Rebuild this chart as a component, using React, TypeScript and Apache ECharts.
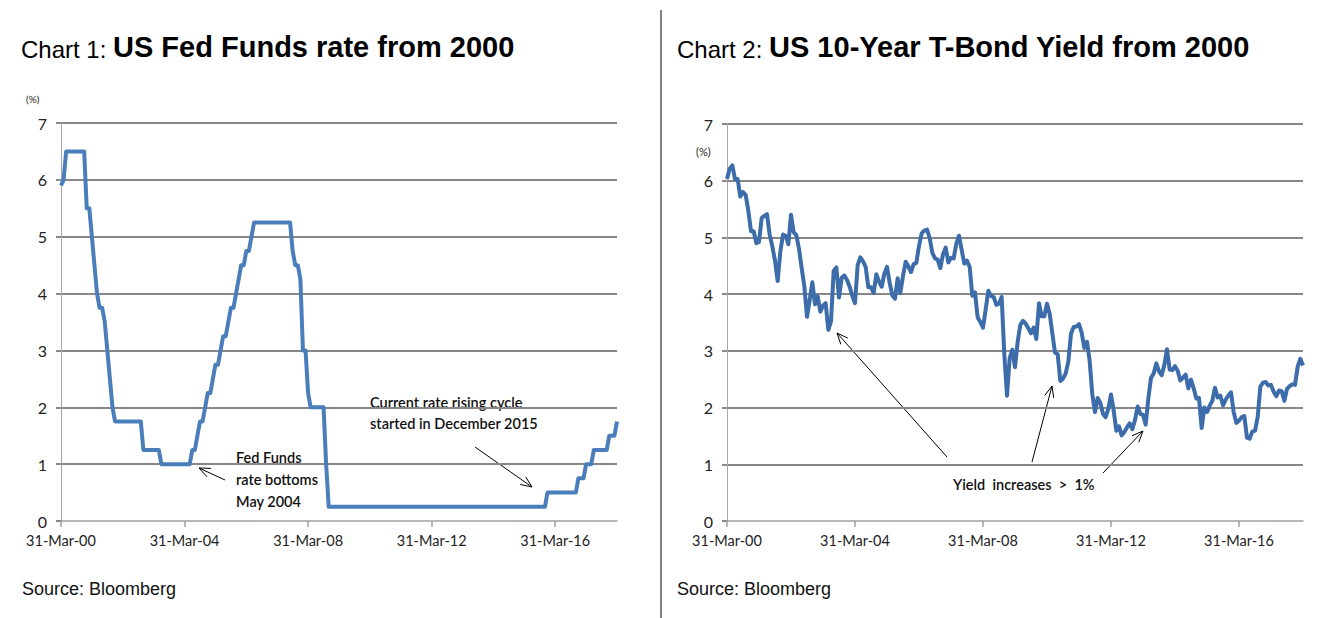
import React, { useEffect, useRef } from "react";
import * as echarts from "echarts";

// ---------- data ----------
const START_YEAR = 2000;
const START_MONTH = 2; // March (0-based)
const MONTHS = 217; // Mar-2000 .. Mar-2018
const monNames = ["Jan","Feb","Mar","Apr","May","Jun","Jul","Aug","Sep","Oct","Nov","Dec"];

// month-end category labels, e.g. "31-Mar-00"
const months: string[] = [];
for (let i = 0; i < MONTHS; i++) {
  const m = (START_MONTH + i) % 12;
  const y = START_YEAR + Math.floor((START_MONTH + i) / 12);
  const last = new Date(Date.UTC(y, m + 1, 0)).getUTCDate();
  months.push(`${last}-${monNames[m]}-${String(y % 100).padStart(2, "0")}`);
}

const yTickValues = [0, 1, 2, 3, 4, 5, 6, 7];

// US Fed Funds target rate (%), month-end, Mar-2000 .. Mar-2018
const fedFunds = [
  5.9, 6.0, 6.5, 6.5, 6.5, 6.5, 6.5, 6.5, 6.5, 6.5,
  5.5, 5.5, 5.0, 4.5, 4.0, 3.75, 3.75, 3.5, 3.0, 2.5, 2.0, 1.75,
  1.75, 1.75, 1.75, 1.75, 1.75, 1.75, 1.75, 1.75, 1.75, 1.75, 1.25, 1.25,
  1.25, 1.25, 1.25, 1.25, 1.25, 1.0, 1.0, 1.0, 1.0, 1.0, 1.0, 1.0,
  1.0, 1.0, 1.0, 1.0, 1.0, 1.25, 1.25, 1.5, 1.75, 1.75, 2.0, 2.25,
  2.25, 2.5, 2.75, 2.75, 3.0, 3.25, 3.25, 3.5, 3.75, 3.75, 4.0, 4.25,
  4.5, 4.5, 4.75, 4.75, 5.0, 5.25, 5.25, 5.25, 5.25, 5.25, 5.25, 5.25,
  5.25, 5.25, 5.25, 5.25, 5.25, 5.25, 5.25, 5.25, 4.75, 4.5, 4.5, 4.25,
  3.0, 3.0, 2.25, 2.0, 2.0, 2.0, 2.0, 2.0, 2.0, 1.0, 0.25, 0.25,
  0.25, 0.25, 0.25, 0.25, 0.25, 0.25, 0.25, 0.25, 0.25, 0.25, 0.25, 0.25,
  0.25, 0.25, 0.25, 0.25, 0.25, 0.25, 0.25, 0.25, 0.25, 0.25, 0.25, 0.25,
  0.25, 0.25, 0.25, 0.25, 0.25, 0.25, 0.25, 0.25, 0.25, 0.25, 0.25, 0.25,
  0.25, 0.25, 0.25, 0.25, 0.25, 0.25, 0.25, 0.25, 0.25, 0.25, 0.25, 0.25,
  0.25, 0.25, 0.25, 0.25, 0.25, 0.25, 0.25, 0.25, 0.25, 0.25, 0.25, 0.25,
  0.25, 0.25, 0.25, 0.25, 0.25, 0.25, 0.25, 0.25, 0.25, 0.25, 0.25, 0.25,
  0.25, 0.25, 0.25, 0.25, 0.25, 0.25, 0.25, 0.25, 0.25, 0.25, 0.25, 0.5,
  0.5, 0.5, 0.5, 0.5, 0.5, 0.5, 0.5, 0.5, 0.5, 0.5, 0.5, 0.75,
  0.75, 0.75, 1.0, 1.0, 1.0, 1.25, 1.25, 1.25, 1.25, 1.25, 1.25, 1.5,
  1.5, 1.5, 1.75,
];

// US 10-year Treasury yield (%), month-end, Mar-2000 .. Mar-2018
const tBond10y = [
  6.03, 6.21, 6.27, 6.03, 6.03, 5.72, 5.80, 5.75, 5.47, 5.11,
  5.11, 4.90, 4.92, 5.34, 5.38, 5.41, 5.05, 4.84, 4.59, 4.23, 4.75, 5.05,
  5.03, 4.88, 5.40, 5.09, 5.04, 4.80, 4.46, 4.14, 3.60, 3.89, 4.21, 3.82,
  3.96, 3.69, 3.80, 3.84, 3.37, 3.52, 4.41, 4.47, 3.94, 4.29, 4.33, 4.25,
  4.13, 3.97, 3.84, 4.51, 4.65, 4.58, 4.48, 4.12, 4.12, 4.02, 4.35, 4.22,
  4.13, 4.36, 4.48, 4.20, 3.98, 3.92, 4.28, 4.02, 4.32, 4.57, 4.49, 4.39,
  4.53, 4.55, 4.85, 5.07, 5.12, 5.14, 4.99, 4.73, 4.63, 4.61, 4.46, 4.70,
  4.82, 4.56, 4.64, 4.63, 4.89, 5.03, 4.78, 4.54, 4.59, 4.48, 3.97, 4.03,
  3.59, 3.51, 3.41, 3.73, 4.06, 3.97, 3.95, 3.81, 3.83, 3.95, 2.93, 2.21,
  2.87, 3.02, 2.71, 3.16, 3.46, 3.53, 3.48, 3.40, 3.31, 3.41, 3.21, 3.84,
  3.61, 3.61, 3.83, 3.66, 3.31, 2.97, 2.94, 2.47, 2.51, 2.60, 2.81, 3.30,
  3.42, 3.43, 3.47, 3.32, 3.05, 3.16, 2.82, 2.23, 1.92, 2.17, 2.08, 1.89,
  1.83, 1.98, 2.23, 1.95, 1.59, 1.67, 1.51, 1.57, 1.65, 1.72, 1.62, 1.78,
  2.02, 1.89, 1.87, 1.70, 2.16, 2.52, 2.60, 2.78, 2.64, 2.57, 2.75, 3.03,
  2.67, 2.66, 2.73, 2.65, 2.48, 2.53, 2.58, 2.34, 2.49, 2.34, 2.16, 2.17,
  1.64, 2.00, 1.92, 2.03, 2.12, 2.35, 2.18, 2.21, 2.04, 2.14, 2.21, 2.27,
  1.92, 1.73, 1.77, 1.83, 1.85, 1.47, 1.45, 1.58, 1.59, 1.83, 2.37, 2.44,
  2.45, 2.39, 2.40, 2.28, 2.20, 2.30, 2.29, 2.12, 2.33, 2.38, 2.41, 2.40,
  2.72, 2.86, 2.74,
];

// ---------- styling ----------
const ARIAL = "'Liberation Sans', Arial, sans-serif";
const CAL = "Lato, 'Liberation Sans', sans-serif";

function arrow(x1: number, y1: number, x2: number, y2: number) {
  const ang = Math.atan2(y2 - y1, x2 - x1);
  const L = 12;
  const a = 0.4;
  const p1 = [x2 - L * Math.cos(ang - a), y2 - L * Math.sin(ang - a)];
  const p2 = [x2 - L * Math.cos(ang + a), y2 - L * Math.sin(ang + a)];
  return [
    { type: "line", silent: true, shape: { x1, y1, x2, y2 }, style: { stroke: "#000", lineWidth: 1 } },
    { type: "polyline", silent: true, shape: { points: [p1, [x2, y2], p2] }, style: { stroke: "#000", lineWidth: 1, fill: "none" } },
  ];
}

function annot(x: number, y: number, text: string, lh: number, size = 14) {
  return {
    type: "text",
    silent: true,
    x,
    y,
    style: {
      text,
      fill: "#111",
      fontFamily: CAL,
      fontSize: size,
      fontWeight: 600,
      lineHeight: lh,
      verticalAlign: "top",
    },
  };
}

function titleOpt(left: number, num: number, main: string) {
  return {
    left,
    top: 29,
    padding: 0,
    text: `{a|Chart ${num}: }{b|${main}}`,
    textStyle: {
      rich: {
        a: { fontFamily: ARIAL, fontSize: 24, fontWeight: "normal", color: "#000", verticalAlign: "bottom", lineHeight: 32 },
        b: { fontFamily: ARIAL, fontSize: 29, fontWeight: "bold", color: "#000", verticalAlign: "bottom", lineHeight: 32 },
      },
    },
  };
}

export default function App() {
  const ref = useRef<HTMLDivElement>(null);

  useEffect(() => {
    if (!ref.current) return;
    const chart = echarts.init(ref.current, undefined, { renderer: "svg" });

    const xAxes = [0, 1].map((i) => ({
      type: "category",
      gridIndex: i,
      data: months,
      boundaryGap: false,
      axisLine: { show: true, lineStyle: { color: "#a0a0a0", width: 1.5 } },
      axisTick: { show: true, interval: 47, length: 6, lineStyle: { color: "#a0a0a0", width: 1.5 } },
      axisLabel: { interval: 47, margin: 12, fontFamily: CAL, fontSize: 14.5, color: "#222" },
      splitLine: { show: false },
    }));

    const yAxes = [0, 1].map((i) => ({
      type: "value",
      gridIndex: i,
      min: yTickValues[0],
      max: yTickValues[yTickValues.length - 1],
      interval: 1,
      axisLine: { show: true, lineStyle: { color: "#a8a8a8", width: 1 } },
      axisTick: { show: true, length: 5, lineStyle: { color: "#888", width: 2 } },
      axisLabel: { margin: 14, fontFamily: CAL, fontSize: 16, color: "#222" },
      splitLine: { show: true, showMinLine: false, lineStyle: { color: "#878787", width: 2 } },
    }));

    const option: any = {
      animation: false,
      backgroundColor: "#fff",
      title: [titleOpt(21, 1, "US Fed Funds rate from 2000"), titleOpt(677, 2, "US 10-Year T-Bond Yield from 2000")],
      grid: [
        { left: 61, top: 123, width: 556, height: 398 },
        { left: 727, top: 124, width: 576, height: 397 },
      ],
      xAxis: xAxes,
      yAxis: yAxes,
      series: [
        {
          type: "line",
          name: "Fed Funds",
          xAxisIndex: 0,
          yAxisIndex: 0,
          data: fedFunds,
          showSymbol: false,
          lineStyle: { color: "#4A7EBB", width: 4, join: "round" },
        },
        {
          type: "line",
          name: "10Y",
          xAxisIndex: 1,
          yAxisIndex: 1,
          data: tBond10y,
          showSymbol: false,
          lineStyle: { color: "#3D6CAA", width: 4, join: "round" },
        },
      ],
      graphic: [
        { type: "line", silent: true, shape: { x1: 661, y1: 10, x2: 661, y2: 618 }, style: { stroke: "#000", lineWidth: 1 } },
        { type: "text", silent: true, x: 26, y: 94, style: { text: "(%)", fontFamily: CAL, fontSize: 10, fill: "#222" } },
        { type: "text", silent: true, x: 696, y: 146, style: { text: "(%)", fontFamily: CAL, fontSize: 11, fill: "#222" } },
        annot(236, 446, "Fed Funds\nrate bottoms\nMay 2004", 22, 14.5),
        annot(370, 392, "Current rate rising cycle\nstarted in December 2015", 21, 14.5),
        annot(953, 474, "Yield  increases  >  1%", 20, 14.5),
        ...arrow(225, 480, 199, 468),
        ...arrow(475, 447, 532, 487),
        ...arrow(947, 457, 837, 333),
        ...arrow(1032, 462, 1052, 386),
        ...arrow(1103, 473, 1143, 431),
        { type: "text", silent: true, x: 22, y: 580, style: { text: "Source: Bloomberg", fontFamily: ARIAL, fontSize: 18, fill: "#111" } },
        { type: "text", silent: true, x: 677, y: 580, style: { text: "Source: Bloomberg", fontFamily: ARIAL, fontSize: 18, fill: "#111" } },
      ],
    };

    chart.setOption(option);
    return () => chart.dispose();
  }, []);

  return (
    <div
      ref={ref}
      style={{ position: "fixed", left: 0, top: 0, width: 1331, height: 618, background: "#fff" }}
    />
  );
}
